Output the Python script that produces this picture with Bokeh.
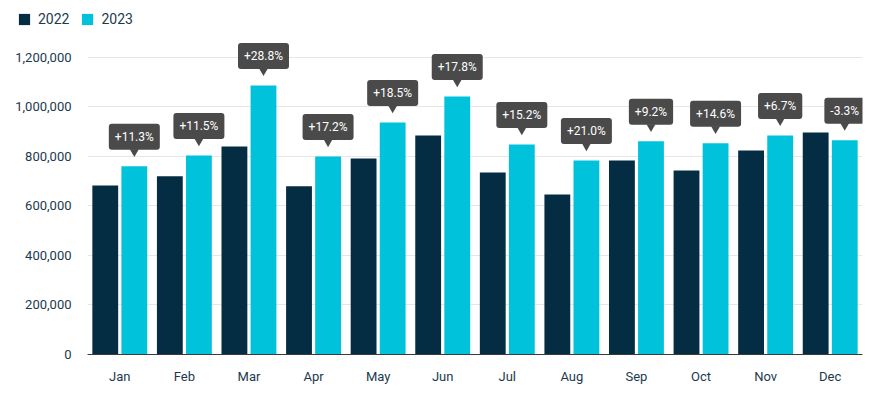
from bokeh.plotting import figure
from bokeh.layouts import column, row
from bokeh.models import (ColumnDataSource, FactorRange, Range1d, FixedTicker,
                          NumeralTickFormatter, Legend, LegendItem)
from bokeh.transform import dodge
from bokeh.core.properties import value
from bokeh.embed import file_html
from bokeh.resources import INLINE

months = ["Jan", "Feb", "Mar", "Apr", "May", "Jun", "Jul", "Aug", "Sep", "Oct", "Nov", "Dec"]
sales_2022 = [683000, 720000, 840000, 680000, 792000, 885000, 735000, 646000, 784000, 743000, 824000, 897000]
sales_2023 = [760000, 804000, 1087000, 800000, 937000, 1042000, 848000, 784000, 861000, 853000, 885000, 866000]
change_labels = ["+11.3%", "+11.5%", "+28.8%", "+17.2%", "+18.5%", "+17.8%",
                 "+15.2%", "+21.0%", "+9.2%", "+14.6%", "+6.7%", "-3.3%"]
series_names = ["2022", "2023"]
y_ticks = [0, 200000, 400000, 600000, 800000, 1000000, 1200000]

C2022 = "#042c42"
C2023 = "#00c3db"
CBOX = "#4a4a4a"
CTEXT = "#1b3a4f"
FONT = "Roboto"

FRAME_H = 327
Y_END = 1321000
units_per_px = Y_END / FRAME_H

src = ColumnDataSource(dict(
    month=months, v2022=sales_2022, v2023=sales_2023, label=change_labels,
    tri_y=[v + 14.5 * units_per_px for v in sales_2023],
))

p = figure(x_range=FactorRange(factors=months), y_range=Range1d(0, Y_END),
           frame_width=775, frame_height=FRAME_H,
           min_border_left=87, min_border_right=21, min_border_top=0, min_border_bottom=35,
           output_backend="svg", toolbar_location=None)
p.outline_line_color = None
p.background_fill_color = "white"
p.border_fill_color = "white"

p.vbar(x=dodge("month", -0.225, range=p.x_range), top="v2022", width=0.40,
       source=src, fill_color=C2022, line_color=None)
p.vbar(x=dodge("month", 0.225, range=p.x_range), top="v2023", width=0.40,
       source=src, fill_color=C2023, line_color=None)

p.scatter(x=dodge("month", 0.225, range=p.x_range), y="tri_y", marker="inverted_triangle",
          size=9, fill_color=CBOX, line_color=None, source=src)
p.text(x=dodge("month", 0.225, range=p.x_range), y="v2023", text="label", source=src,
       y_offset=-29.5, text_align="center", text_baseline="middle",
       text_color="white", text_font=value(FONT), text_font_size="12px",
       background_fill_color=CBOX, padding=6, border_radius=3)

# axes
p.yaxis.ticker = FixedTicker(ticks=y_ticks)
p.yaxis.formatter = NumeralTickFormatter(format="0,0")
p.yaxis.axis_line_color = None
p.yaxis.major_tick_line_color = None
p.yaxis.minor_tick_line_color = None
p.yaxis.major_label_standoff = 10
p.yaxis.major_label_text_font = FONT
p.yaxis.major_label_text_font_size = "13px"
p.yaxis.major_label_text_color = CTEXT

p.xaxis.axis_line_color = "#3a3a3a"
p.xaxis.axis_line_width = 1
p.xaxis.major_tick_line_color = None
p.xaxis.minor_tick_line_color = None
p.xaxis.major_label_standoff = 8
p.xaxis.major_label_text_font = FONT
p.xaxis.major_label_text_font_size = "13px"
p.xaxis.major_label_text_color = CTEXT

p.xgrid.grid_line_color = None
p.ygrid.grid_line_color = "#e6e6e6"
p.ygrid.grid_line_width = 1

# legend strip on top (separate small figure)
lf = figure(width=883, height=27, x_range=Range1d(0, 1), y_range=Range1d(0, 1),
            min_border=0, output_backend="svg", toolbar_location=None)
lf.axis.visible = False
lf.grid.visible = False
lf.outline_line_color = None
lsrc = ColumnDataSource(dict(x=[5], top=[0]))  # legend-only swatches, kept off-view
lr1 = lf.vbar(x="x", top="top", width=0.1, source=lsrc, fill_color=C2022, line_color=None)
lr2 = lf.vbar(x="x", top="top", width=0.1, source=lsrc, fill_color=C2023, line_color=None)
legend = Legend(items=[LegendItem(label=series_names[0], renderers=[lr1]),
                       LegendItem(label=series_names[1], renderers=[lr2])],
                orientation="horizontal", location=(17, 0),
                glyph_width=14, glyph_height=14, label_height=14,
                label_standoff=7, spacing=11, padding=0, margin=0,
                border_line_color=None, background_fill_alpha=0,
                label_text_font=FONT, label_text_font_size="14px",
                label_text_color=CTEXT)
lf.add_layout(legend, "center")

layout = column(row(lf), p, spacing=0)
open("out.html", "w").write(file_html(layout, INLINE))
